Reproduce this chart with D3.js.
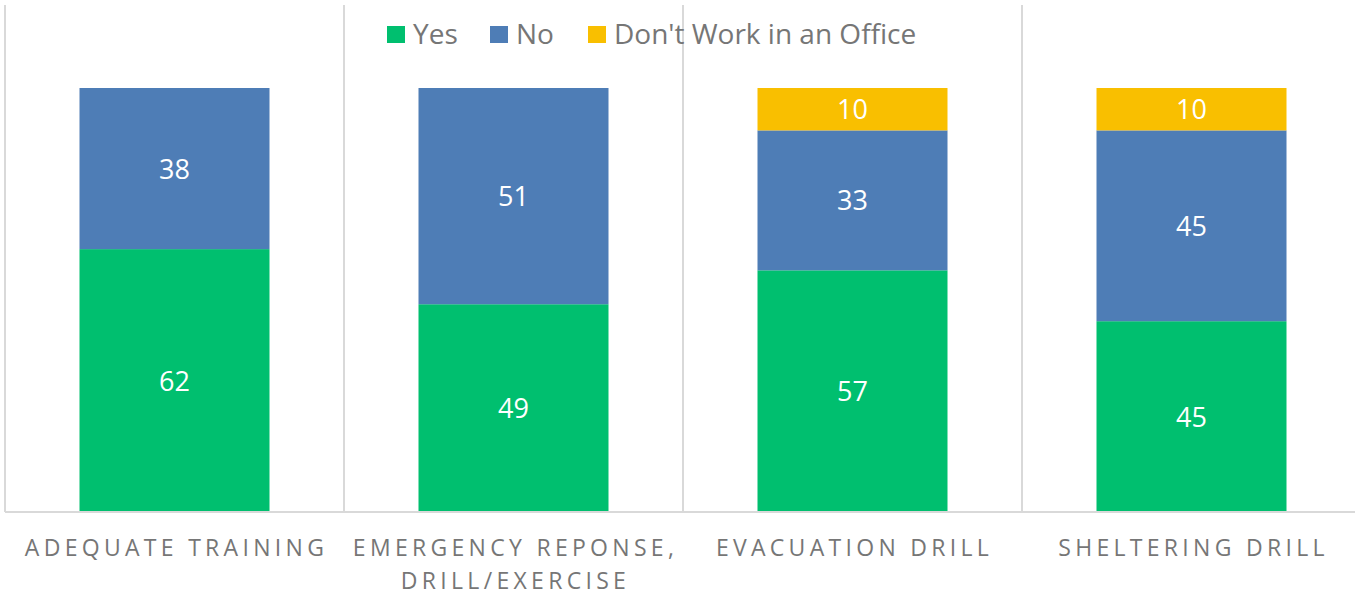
<html>
<head>
<meta charset="utf-8">
<script src="https://d3js.org/d3.v7.min.js"></script>
<style>
  body { margin: 0; background: #fff; }
  .cat { font-family: "Open Sans", sans-serif; font-size: 23px; fill: #767676; letter-spacing: 4.3px; }
  .val { font-family: "Open Sans", sans-serif; font-size: 27px; fill: #fff; }
  .leg { font-family: "Open Sans", sans-serif; font-size: 28px; fill: #767676; }
</style>
</head>
<body>
<div id="chart"></div>
<script>
var categories = ["ADEQUATE TRAINING", "EMERGENCY REPONSE,|DRILL/EXERCISE", "EVACUATION DRILL", "SHELTERING DRILL"];
var seriesNames = ["Yes", "No", "Don't Work in an Office"];
var yesValues = [62, 49, 57, 45];
var noValues = [38, 51, 33, 45];
var officeValues = [0, 0, 10, 10];
var colors = ["#00bf6f", "#4e7db6", "#f9bf00"];

var width = 1355, height = 595;
var plotLeft = 5, plotRight = 1361, plotTop = 88, plotBottom = 512;

var svg = d3.select("#chart").append("svg")
  .attr("width", width).attr("height", height);

var x = d3.scaleBand().domain(categories).range([plotLeft, plotRight]);
var y = d3.scaleLinear().domain([0, 100]).range([plotBottom, plotTop]);

// category separators
svg.selectAll("line.sep").data(d3.range(categories.length + 1)).enter().append("line")
  .attr("x1", function(i) { return plotLeft + i * x.bandwidth(); })
  .attr("x2", function(i) { return plotLeft + i * x.bandwidth(); })
  .attr("y1", 5).attr("y2", plotBottom)
  .style("stroke", "#d9d9d9").style("stroke-width", 2);

var rows = categories.map(function(c, i) {
  return { cat: c, Yes: yesValues[i], No: noValues[i], "Don't Work in an Office": officeValues[i] };
});
var stack = d3.stack().keys(seriesNames)(rows);

var barW = 190;
var layers = svg.selectAll("g.layer").data(stack).enter().append("g")
  .style("fill", function(d, i) { return colors[i]; });

layers.selectAll("rect").data(function(d) { return d.filter(function(p) { return p[1] > p[0]; }); })
  .enter().append("rect")
  .attr("x", function(d) { return x(d.data.cat) + x.bandwidth() / 2 - barW / 2; })
  .attr("width", barW)
  .attr("y", function(d) { return y(d[1]); })
  .attr("height", function(d) { return y(d[0]) - y(d[1]); });

layers.selectAll("text").data(function(d) { return d.filter(function(p) { return p[1] > p[0]; }); })
  .enter().append("text")
  .attr("class", "val")
  .attr("text-anchor", "middle")
  .attr("x", function(d) { return x(d.data.cat) + x.bandwidth() / 2; })
  .attr("y", function(d) { return (y(d[0]) + y(d[1])) / 2 + 10; })
  .text(function(d) { return d[1] - d[0]; });

// baseline
svg.append("line").attr("x1", plotLeft).attr("x2", plotRight).attr("y1", plotBottom).attr("y2", plotBottom)
  .style("stroke", "#d9d9d9").style("stroke-width", 2);

// category labels
svg.selectAll("text.cat").data(categories).enter().append("text")
  .attr("class", "cat")
  .attr("text-anchor", "middle")
  .attr("y", 556)
  .each(function(d) {
    var t = d3.select(this);
    d.split("|").forEach(function(line, k) {
      t.append("tspan").attr("x", x(d) + x.bandwidth() / 2 + 2).attr("dy", k ? 33 : 0).text(line);
    });
  });

// legend
var legX = [387, 490, 588];
var leg = svg.selectAll("g.leg").data(seriesNames).enter().append("g")
  .attr("transform", function(d, i) { return "translate(" + legX[i] + ",26)"; });
leg.append("rect").attr("width", 18).attr("height", 17)
  .style("fill", function(d, i) { return colors[i]; });
leg.append("text").attr("class", "leg").attr("x", 26).attr("y", 18).text(function(d) { return d; });
</script>
</body>
</html>
